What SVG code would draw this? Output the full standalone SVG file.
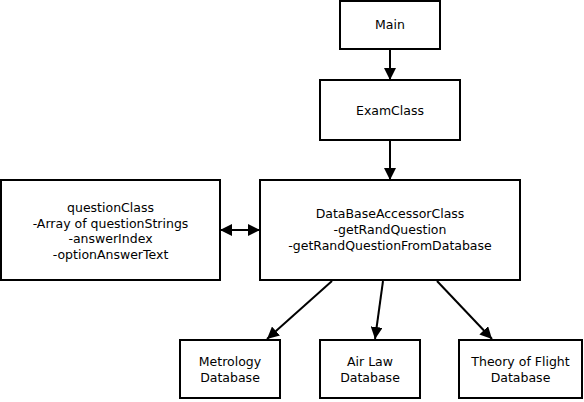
<svg xmlns="http://www.w3.org/2000/svg" width="584" height="402" viewBox="0 0 584 402">
<style>
.box{fill:#fff;stroke:#000;stroke-width:2}
.t{font-family:"DejaVu Sans",sans-serif;font-size:12.5px;fill:#000;text-anchor:middle}
.c{stroke:#000;stroke-width:2;fill:none}
</style>
<defs>
<marker id="ah" viewBox="0 0 12 12" refX="12" refY="6" markerWidth="12" markerHeight="12" markerUnits="userSpaceOnUse" orient="auto-start-reverse">
<path d="M0,0 L12,6 L0,12 Z" fill="#000"/>
</marker>
</defs>
<rect width="584" height="402" fill="#fff"/>
<g id="connectors">
<line class="c" x1="390" y1="49" x2="390" y2="80" marker-end="url(#ah)"/>
<line class="c" x1="390" y1="140" x2="390" y2="180" marker-end="url(#ah)"/>
<line class="c" x1="220" y1="230" x2="260" y2="230" marker-start="url(#ah)" marker-end="url(#ah)"/>
<line class="c" x1="332" y1="281" x2="267" y2="339" marker-end="url(#ah)"/>
<line class="c" x1="383" y1="281" x2="375" y2="339" marker-end="url(#ah)"/>
<line class="c" x1="437" y1="281" x2="492" y2="339" marker-end="url(#ah)"/>
</g>
<g id="main">
<rect class="box" x="340" y="1" width="100" height="48"/>
<text class="t" x="390" y="29">Main</text>
</g>
<g id="examclass">
<rect class="box" x="320" y="80" width="140" height="60"/>
<text class="t" x="390" y="115">ExamClass</text>
</g>
<g id="questionclass">
<rect class="box" x="1" y="180" width="219" height="100"/>
<text class="t" x="110.5" y="212">questionClass</text>
<text class="t" x="110.5" y="227.5">-Array of questionStrings</text>
<text class="t" x="110.5" y="243">-answerIndex</text>
<text class="t" x="110.5" y="258.5">-optionAnswerText</text>
</g>
<g id="dbaccessor">
<rect class="box" x="260" y="180" width="260" height="100"/>
<text class="t" x="390" y="218">DataBaseAccessorClass</text>
<text class="t" x="390" y="234">-getRandQuestion</text>
<text class="t" x="390" y="250">-getRandQuestionFromDatabase</text>
</g>
<g id="metrology">
<rect class="box" x="180" y="340" width="100" height="58"/>
<text class="t" x="230" y="366">Metrology</text>
<text class="t" x="230" y="382">Database</text>
</g>
<g id="airlaw">
<rect class="box" x="320" y="340" width="100" height="58"/>
<text class="t" x="370" y="366">Air Law</text>
<text class="t" x="370" y="382">Database</text>
</g>
<g id="theory">
<rect class="box" x="459" y="340" width="123" height="58"/>
<text class="t" x="520.5" y="366">Theory of Flight</text>
<text class="t" x="520.5" y="382">Database</text>
</g>
</svg>
